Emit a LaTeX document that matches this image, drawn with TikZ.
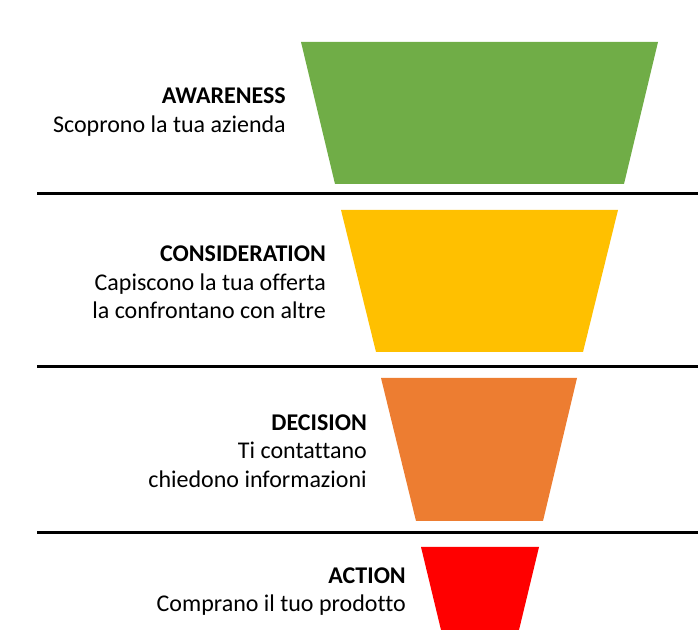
\documentclass[tikz,border=0pt]{standalone}
\usepackage{fontspec}
\setmainfont[Ligatures=CommonOff]{Carlito}
\definecolor{fgreen}{RGB}{112,173,71}
\definecolor{fyellow}{RGB}{255,192,0}
\definecolor{forange}{RGB}{237,125,49}
\definecolor{fred}{RGB}{255,0,0}
\begin{document}
\begin{tikzpicture}[x=1pt,y=1pt,
  lbl/.style={anchor=base east,inner sep=0pt,font=\fontsize{24}{28.7}\selectfont},
  ttl/.style={lbl,font=\fontsize{24}{28.7}\selectfont\bfseries},
  sep/.style={line width=3pt,black}]
\useasboundingbox (0,0) rectangle (698,644);
% funnel pieces (y flipped: 644 - y)
\fill[fgreen] (301,602) -- (658,602) -- (624,460) -- (335,460) -- cycle;
\fill[fyellow] (341,434) -- (618,434) -- (583,292) -- (376,292) -- cycle;
\fill[forange] (381,266) -- (577,266) -- (543,123) -- (416,123) -- cycle;
\fill[fred] (421,97) -- (539,97) -- (519,14) -- (441,14) -- cycle;
% separators
\coordinate (s1a) at (37,450); \coordinate (s1b) at (698,450);
\coordinate (s2a) at (37,277); \coordinate (s2b) at (698,277);
\coordinate (s3a) at (37,111); \coordinate (s3b) at (698,111);
\draw[sep] (s1a) -- (s1b);
\draw[sep] (s2a) -- (s2b);
\draw[sep] (s3a) -- (s3b);
% labels
\node[ttl] (aw) at (286,540) {AWARENESS};
\node[lbl] (aw1) at (286,511.5) {Scoprono la tua azienda};
\node[ttl] (co) at (326,382) {CONSIDERATION};
\node[lbl] (co1) at (326,353) {Capiscono la tua offerta};
\node[lbl] (co2) at (326,325) {la confrontano con altre};
\node[ttl] (de) at (367,213) {DECISION};
\node[lbl] (de1) at (367,185) {Ti contattano};
\node[lbl] (de2) at (367,156) {chiedono informazioni};
\node[ttl] (ac) at (406,60) {ACTION};
\node[lbl] (ac1) at (406,32) {Comprano il tuo prodotto};
\end{tikzpicture}
\end{document}
